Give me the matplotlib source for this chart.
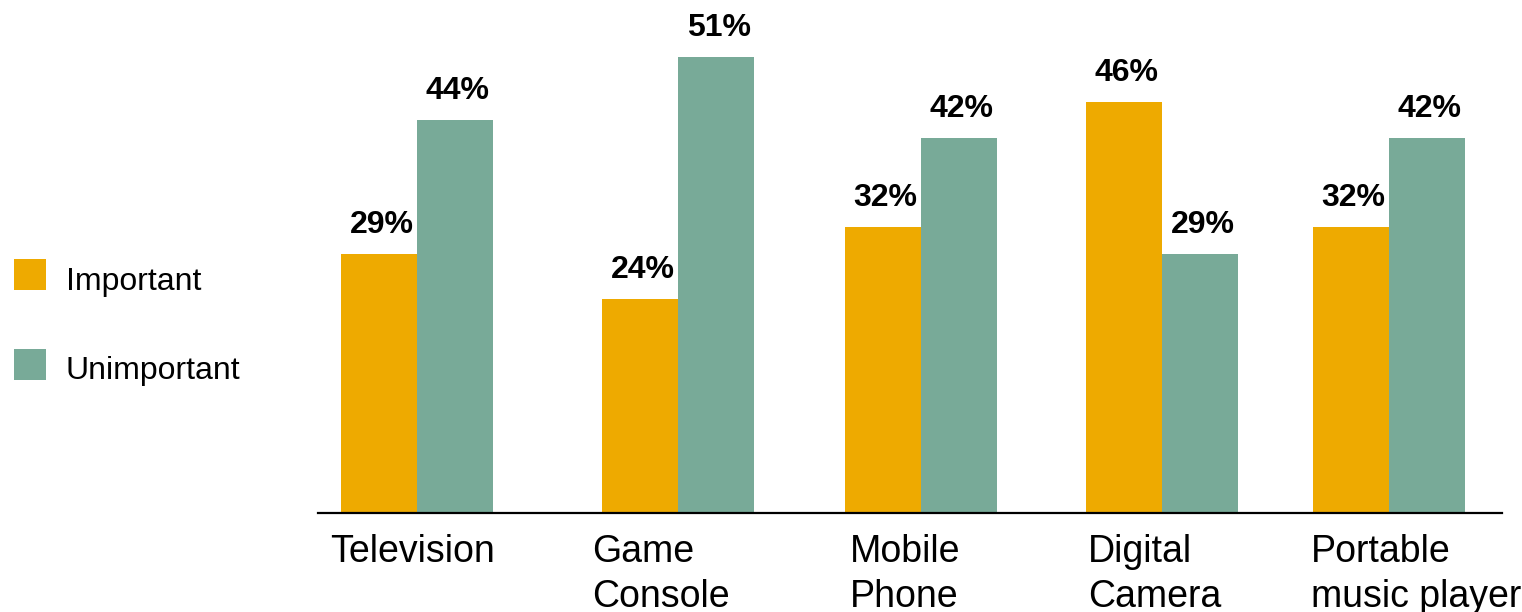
import matplotlib
matplotlib.use("Agg")
import matplotlib.pyplot as plt
from matplotlib.patches import Rectangle

plt.rcParams["font.family"] = ["Liberation Sans", "DejaVu Sans"]

categories = [["Television"], ["Game", "Console"], ["Mobile", "Phone"],
              ["Digital", "Camera"], ["Portable", "music player"]]
series_names = ["Important", "Unimportant"]
important = [29, 24, 32, 46, 32]
unimportant = [44, 51, 42, 29, 42]
colors = ["#EEAA00", "#78AA98"]

W, H, DPI = 1522, 612, 100
fig = plt.figure(figsize=(W / DPI, H / DPI), dpi=DPI)

# plot area in pixel units: baseline at y=513 px, spans x 318..1502 px
ax = fig.add_axes([318 / W, (H - 513) / H, (1502 - 318) / W, 513 / H])
ax.set_ylim(0, 57.4)
ax.set_xlim(318, 1502)

# horizontal layout of the groups and of their labels (pixel units)
group_centers = [417, 678, 921, 1162, 1389]
label_left = [330, 592, 850, 1088, 1311]
bw = 76

for vals, off, col in [(important, -bw / 2, colors[0]), (unimportant, bw / 2, colors[1])]:
    bars = ax.bar([c + off for c in group_centers], vals, width=bw, color=col,
                  linewidth=0, zorder=2)
    for b, v in zip(bars, vals):
        ax.annotate(f"{v}%", xy=(b.get_x() + b.get_width() / 2, v),
                    xytext=(2, 15), textcoords="offset points",
                    ha="center", va="baseline", fontsize=23, fontweight="bold")

for s in ["top", "right", "left"]:
    ax.spines[s].set_visible(False)
ax.spines["bottom"].set_linewidth(1.6)
ax.spines["bottom"].set_zorder(3)
ax.set_xticks([])
ax.set_yticks([])

# category labels, left-aligned under each group
for lx, lines in zip(label_left, categories):
    for j, line in enumerate(lines):
        ax.annotate(line, xy=(lx, 0), xycoords=("data", "axes fraction"),
                    xytext=(0, -35.5 - 32.5 * j), textcoords="offset points",
                    ha="left", va="baseline", fontsize=27)

# legend on the left
for i, (name, col) in enumerate(zip(series_names, colors)):
    top = 259 + 89.5 * i
    fig.add_artist(Rectangle((14 / W, (H - top - 31) / H), 32 / W, 31 / H,
                             transform=fig.transFigure, color=col, lw=0))
    fig.text(66 / W, (H - (top + 31)) / H, name, ha="left", va="baseline", fontsize=23)

fig.savefig("out.png", dpi=DPI)
